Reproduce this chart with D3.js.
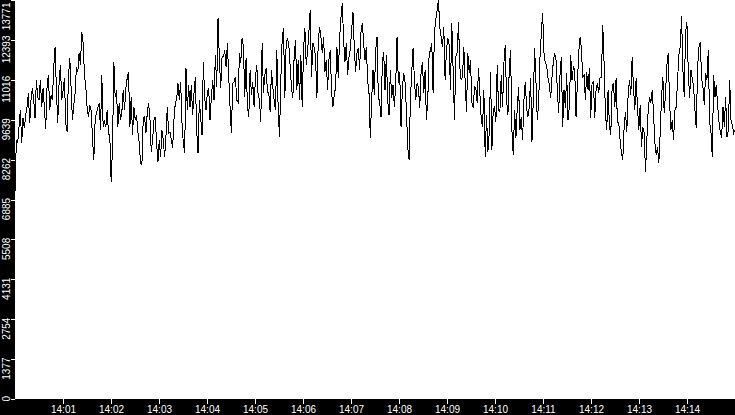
<!DOCTYPE html>
<html><head><meta charset="utf-8">
<script src="https://cdn.jsdelivr.net/npm/d3@7"></script>
<style>html,body{margin:0;padding:0;background:#fff;overflow:hidden}svg{display:block}</style>
</head><body>
<svg id="chart" width="735" height="415"></svg>
<script>
// ---- data ----
const startLabel = "14:00";
const endLabel = "14:15";
const xTickLabels = ["14:01","14:02","14:03","14:04","14:05","14:06","14:07","14:08","14:09","14:10","14:11","14:12","14:13","14:14"];
const yTickLabels = ["0","1377","2754","4131","5508","6885","8262","9639","11016","12393","13771"];
const yMax = 13771;
const values = [
7144,8939,8835,9388,9974,8835,9698,9353,9802,10078,10561,9526,10320,10734,10320,9698,11010,10423,10320,11010,10078,10734,10043,9319,10768,11182,9974,10492,10320,11459,12149,10665,9526,10907,11528,10320,10665,11079,9526,9215,11113,11769,10734,9629,10147,10561,11459,11286,11942,11528,12667,12287,11182,10768,10043,9733,10147,9974,9008,8249,9629,9871,10043,10216,9284,11182,9388,9560,9388,9974,9181,9043,7489,8697,11631,10423,10665,9388,10216,9629,9905,10665,9974,10734,11079,11286,9388,10423,
9112,10078,9629,9802,9215,8835,8145,8076,9698,9733,9181,9871,10216,9698,8525,8939,9629,9733,8835,8180,8939,8352,9284,8939,8352,9043,10078,9181,9215,8939,8663,9629,10216,10320,10907,10320,10941,9526,8835,8490,11424,9974,10838,10078,10838,9802,10561,11113,9284,8490,10320,9733,9112,11631,10389,9974,10561,10734,9629,10423,11010,10320,11873,10768,13150,11700,10734,11804,11804,12045,11459,12287,11113,10078,9181,10907,10941,11113,10320,
10251,11942,11597,12459,12149,10423,11769,10078,9733,11355,10492,10941,10078,11113,11528,10492,10320,9560,12287,10561,11182,11424,10596,10561,9905,11355,10768,10320,9974,12045,10043,9043,11010,12390,12805,10389,12287,12459,12218,11459,10734,10389,11873,12390,10665,11700,10320,11873,10078,12045,12805,11528,11976,12667,13426,11113,12287,12114,11804,10389,12321,12839,12494,11942,12494,11286,11700,10665,11700,12045,10596,10078,10492,10768,12149,11079,12459,13150,13667,
12390,11631,12287,11182,11804,12045,12736,13357,12149,11286,11942,12114,11355,12667,12977,12287,11700,12149,11010,10561,9008,10320,11355,10492,12045,12494,10423,10251,9733,11631,11976,10665,11873,10320,9802,11355,10389,10838,10078,10907,12494,10907,11286,9388,10734,11252,10941,9974,8697,8249,10320,11286,12114,11010,10320,10907,10768,10043,11286,11631,10561,11355,9629,10320,11873,12045,12287,10561,12667,13081,13426,13771,12839,12494,12149,12839,11010,12045,12459,
12218,10665,12977,11355,9629,11804,11942,13012,11459,11010,11113,12149,10941,9905,11942,11252,11700,10251,10043,10768,10734,10216,11424,10561,9698,9388,10665,8352,9802,8525,9181,11286,8594,9974,10078,9560,11528,9974,9905,11182,10078,11597,12218,10320,9802,11355,12045,9284,8421,9974,9008,10043,10768,9284,9733,8939,10320,10941,10043,9733,10078,11079,8870,10320,12114,10941,9629,10216,11769,12632,13322,11942,11597,11528,
11079,10838,10389,11113,11631,11942,11700,10665,9871,11182,11804,9388,10665,10043,11252,9629,10078,11873,11010,11459,11355,9733,10907,11942,12494,12114,11113,11182,10320,11286,10665,11424,9698,10907,10941,9698,10665,10907,10561,11113,11113,12908,11597,9871,9284,10665,9388,9112,10734,10907,10078,11079,9526,9526,8939,8490,8249,9388,9905,9215,10492,11010,10492,11804,10768,9974,11079,10078,9284,10147,8697,9388,9181,7835,8939,9974,10423,10216,10665,9871,8835,8421,
8697,8145,9181,10423,11113,9871,10561,11528,11942,10320,9284,9629,8939,9974,10078,11010,11873,12149,13219,11355,10423,12667,13012,11355,10389,11355,11079,10768,9974,9353,11459,12149,12321,11079,10768,10147,11252,11010,12045,9560,9215,8352,11182,10423,10838,10147,9560,9215,9008,10078,9388,10423,9043,9284,11010,9629,9457,9181,9284
];

// ---- chart ----
const W = 735, H = 415, plotLeft = 15, plotBottom = 399;
const svg = d3.select("#chart");
const parse = d3.timeParse("%H:%M");
const t0 = parse(startLabel), t1 = parse(endLabel);
const x = d3.scaleTime().domain([t0, t1]).range([plotLeft, W]);
const y = d3.scaleLinear().domain([0, yMax]).range([plotBottom, 0]);

const n = values.length;
const data = values.map((v, i) => ({ t: new Date(+t0 + i * (t1 - t0) / (n - 1)), v }));

// background strips
svg.append("rect").attr("x", 0).attr("y", 0).attr("width", plotLeft).attr("height", H).attr("fill", "#000");
svg.append("rect").attr("x", 0).attr("y", plotBottom).attr("width", W).attr("height", H - plotBottom).attr("fill", "#000");

// line
svg.append("path").datum(data)
  .attr("d", d3.line().x(d => x(d.t)).y(d => y(d.v)))
  .attr("fill", "none").attr("stroke", "#000").attr("stroke-width", 1)
  .attr("shape-rendering", "crispEdges");

const font = "'Liberation Sans', Arial, sans-serif";

// x axis
const xAxis = d3.axisBottom(x)
  .tickValues(xTickLabels.map(parse))
  .tickFormat((d, i) => xTickLabels[i])
  .tickSize(5).tickPadding(2);
const gx = svg.append("g").attr("transform", `translate(0,${plotBottom})`).call(xAxis);
gx.select(".domain").remove();
gx.selectAll("line").attr("stroke", "#fff").attr("shape-rendering", "crispEdges");
gx.selectAll("text").attr("fill", "#fff").style("font-family", font).style("font-size", "10px");

// y axis
const yAxis = d3.axisLeft(y)
  .tickValues(yTickLabels.map(Number))
  .tickFormat((d, i) => yTickLabels[i])
  .tickSize(4);
const gy = svg.append("g").attr("transform", `translate(${plotLeft},0)`).call(yAxis);
gy.select(".domain").remove();
gy.selectAll("line").attr("stroke", "#fff").attr("shape-rendering", "crispEdges");
gy.selectAll("text")
  .attr("fill", "#fff").style("font-family", font).style("font-size", "10px")
  .attr("x", 0).attr("dy", 0).attr("text-anchor", "middle")
  .each(function (d) {
    const L = this.getComputedTextLength();
    const ty = y(d);
    let c = ty + 9;
    c = Math.max(c, 2 + L / 2);
    c = Math.min(c, 401 - L / 2);
    d3.select(this).attr("y", 0)
      .attr("transform", `translate(-5,${c - ty}) rotate(-90)`);
  });
</script>
</body></html>
